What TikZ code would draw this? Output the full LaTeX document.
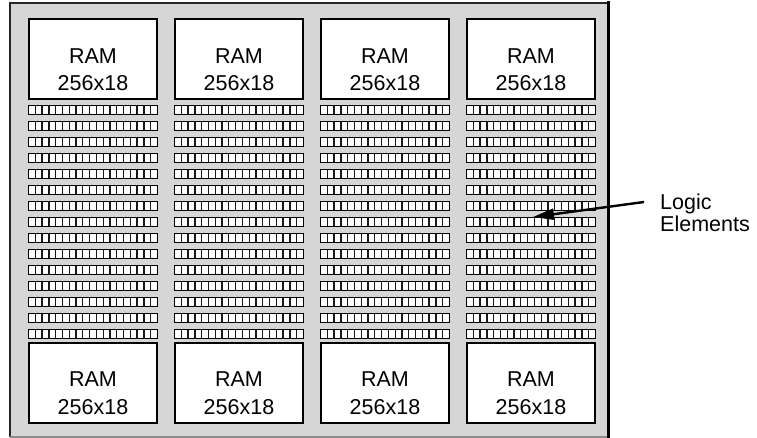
\documentclass[tikz,border=0pt]{standalone}
\usepackage{fontspec}
\setmainfont{Liberation Sans}
\usetikzlibrary{arrows.meta}
\definecolor{panel}{RGB}{214,214,214}
\tikzset{
  ram/.style={draw=black,fill=white,line width=2pt,minimum width=128.5pt,minimum height=80pt,inner sep=0pt},
  ramtxt/.style={anchor=north,inner sep=0pt,align=center,font=\fontsize{21.5}{27.5}\selectfont},
  lerow/.style={draw=black,fill=white,line width=1.9pt},
  lecell/.style={draw=black!90,line width=1.3pt},
  lbltxt/.style={anchor=north west,inner sep=0pt,align=left,font=\fontsize{21.5}{22}\selectfont},
  pointer/.style={line width=2.4pt,-{Triangle[length=21pt,width=11pt]}}
}
\begin{document}
\begin{tikzpicture}[x=1pt,y=-1pt]
\useasboundingbox (0,0) rectangle (757,438);
% panel
\fill[panel] (10,3) rectangle (609,437);
\draw[line width=2pt,black!85] (10,437) -- (10,3) -- (609,3);
\draw[line width=1.2pt,black!45] (10,437) -- (609,437);
\draw[line width=3.5pt] (608.5,1.5) -- (608.5,437.5);
% columns
\foreach \i in {0,...,3} {
  \pgfmathsetmacro\cx{93+146*\i}
  \pgfmathsetmacro\xl{\cx-64.5}
  \node[ram] (rt\i) at (\cx,59) {};
  \node[ramtxt] (tt\i) at (\cx,48.5) {RAM\\256x18};
  \node[ram] (rb\i) at (\cx,383) {};
  \node[ramtxt] (tb\i) at (\cx,372) {RAM\\256x18};
  \foreach \k in {0,...,14} {
    \pgfmathsetmacro\yt{105.5+16*\k}
    \draw[lerow] (\xl,\yt) rectangle ++(129,9);
    \foreach \j in {1,...,18} {
      \draw[lecell] (\xl+\j*6.789,\yt) -- ++(0,9);
    }
  }
}
% label and pointer
\node[lbltxt] (lbl) at (660,194) {Logic\\Elements};
\coordinate (as) at (644,202);
\coordinate (ae) at (533,217);
\draw[pointer] (as) -- (ae);
\end{tikzpicture}
\end{document}
